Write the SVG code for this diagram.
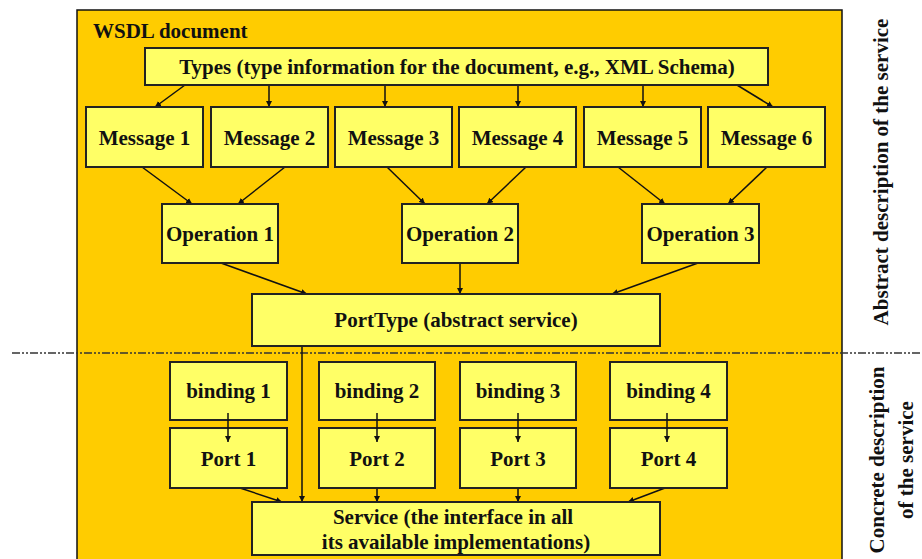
<svg xmlns="http://www.w3.org/2000/svg" width="922" height="559" viewBox="0 0 922 559">
<defs>
<marker id="ah" viewBox="0 0 10 10" refX="10" refY="5" markerWidth="6" markerHeight="6" orient="auto" markerUnits="userSpaceOnUse">
<path d="M0,0 L10,5 L0,10 z" fill="#111"/>
</marker>
</defs>
<style>
.box{fill:#FFFF66;stroke:#222;stroke-width:2}
.t{font-family:"Liberation Serif","Times New Roman",serif;font-weight:bold;font-size:21px;fill:#111;text-anchor:middle}
.c line{stroke:#111;stroke-width:1.5;marker-end:url(#ah)}
</style>
<rect x="0" y="0" width="922" height="559" fill="#fff"/>
<g id="wsdl">
<rect x="77" y="10" width="765" height="560" fill="#FFCC00" stroke="#111" stroke-width="1.5"/>
<text class="t" x="93" y="38" style="text-anchor:start">WSDL document</text>
</g>
<line x1="12" y1="353" x2="922" y2="353" stroke="#333" stroke-width="1.5" stroke-dasharray="8,2,2,2,2,2"/>
<g id="labels">
<text class="t" transform="translate(888,172) rotate(-90)">Abstract description of the service</text>
<text class="t" transform="translate(884,460) rotate(-90)">Concrete description</text>
<text class="t" transform="translate(913,460) rotate(-90)">of the service</text>
</g>
<g class="c" id="connectors">
<line x1="185" y1="85" x2="155" y2="107"/>
<line x1="269" y1="85" x2="269" y2="107"/>
<line x1="385" y1="85" x2="385" y2="107"/>
<line x1="518" y1="85" x2="518" y2="107"/>
<line x1="643" y1="85" x2="643" y2="107"/>
<line x1="737" y1="85" x2="773" y2="107"/>
<line x1="142" y1="167" x2="192" y2="204"/>
<line x1="285" y1="167" x2="238" y2="204"/>
<line x1="387" y1="167" x2="425" y2="204"/>
<line x1="526" y1="167" x2="487" y2="204"/>
<line x1="618" y1="167" x2="665" y2="204"/>
<line x1="767" y1="167" x2="728" y2="204"/>
<line x1="221" y1="263" x2="307" y2="294"/>
<line x1="460" y1="263" x2="460" y2="294"/>
<line x1="698" y1="263" x2="612" y2="294"/>
<line x1="302" y1="346" x2="302" y2="502"/>
<line x1="240" y1="488" x2="282" y2="502"/>
<line x1="377" y1="488" x2="377" y2="502"/>
<line x1="518" y1="488" x2="518" y2="502"/>
<line x1="665" y1="488" x2="628" y2="502"/>
</g>
<g id="types"><rect class="box" x="145" y="48" width="623" height="37"/><text class="t" x="457" y="74">Types (type information for the document, e.g., XML Schema)</text></g>
<g id="msg1"><rect class="box" x="86" y="107" width="117" height="60"/><text class="t" x="144.5" y="145">Message 1</text></g>
<g id="msg2"><rect class="box" x="211" y="107" width="117" height="60"/><text class="t" x="269.5" y="145">Message 2</text></g>
<g id="msg3"><rect class="box" x="335" y="107" width="117" height="60"/><text class="t" x="393.5" y="145">Message 3</text></g>
<g id="msg4"><rect class="box" x="459" y="107" width="117" height="60"/><text class="t" x="517.5" y="145">Message 4</text></g>
<g id="msg5"><rect class="box" x="584" y="107" width="117" height="60"/><text class="t" x="642.5" y="145">Message 5</text></g>
<g id="msg6"><rect class="box" x="708" y="107" width="117" height="60"/><text class="t" x="766.5" y="145">Message 6</text></g>
<g id="op1"><rect class="box" x="162" y="204" width="116" height="59"/><text class="t" x="220" y="241">Operation 1</text></g>
<g id="op2"><rect class="box" x="402" y="204" width="116" height="59"/><text class="t" x="460" y="241">Operation 2</text></g>
<g id="op3"><rect class="box" x="642" y="204" width="117" height="59"/><text class="t" x="700.5" y="241">Operation 3</text></g>
<g id="porttype"><rect class="box" x="252" y="294" width="408" height="52"/><text class="t" x="456" y="327">PortType (abstract service)</text></g>
<g id="binding1"><rect class="box" x="170" y="362" width="117" height="58"/><text class="t" x="228.5" y="398">binding 1</text></g>
<g id="binding2"><rect class="box" x="319" y="362" width="116" height="58"/><text class="t" x="377" y="398">binding 2</text></g>
<g id="binding3"><rect class="box" x="460" y="362" width="116" height="58"/><text class="t" x="518" y="398">binding 3</text></g>
<g id="binding4"><rect class="box" x="610" y="362" width="117" height="58"/><text class="t" x="668.5" y="398">binding 4</text></g>
<g id="port1"><rect class="box" x="170" y="428" width="117" height="60"/><text class="t" x="228.5" y="466">Port 1</text></g>
<g id="port2"><rect class="box" x="319" y="428" width="116" height="60"/><text class="t" x="377" y="466">Port 2</text></g>
<g id="port3"><rect class="box" x="460" y="428" width="116" height="60"/><text class="t" x="518" y="466">Port 3</text></g>
<g id="port4"><rect class="box" x="610" y="428" width="117" height="60"/><text class="t" x="668.5" y="466">Port 4</text></g>
<g class="c" id="bp-connectors">
<line x1="228" y1="413" x2="228" y2="442"/>
<line x1="377" y1="413" x2="377" y2="442"/>
<line x1="518" y1="413" x2="518" y2="442"/>
<line x1="667" y1="413" x2="667" y2="442"/>
</g>
<g id="service"><rect class="box" x="252" y="502" width="408" height="53"/><text class="t" x="453" y="524">Service (the interface in all</text><text class="t" x="456" y="549">its available implementations)</text></g>
</svg>
